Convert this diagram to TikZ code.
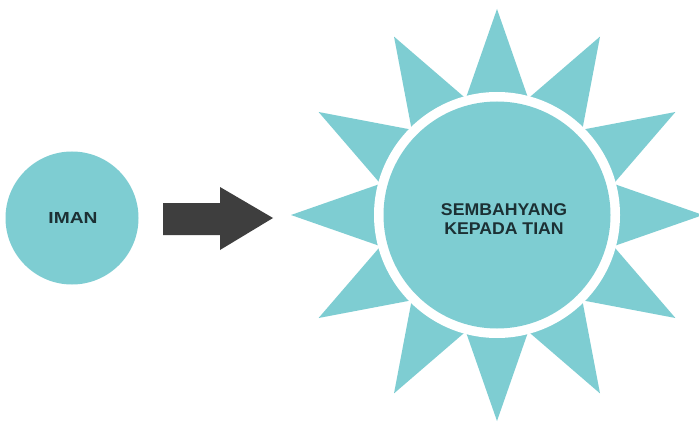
\documentclass[tikz,border=0pt]{standalone}
\usepackage{fontspec}
\setmainfont{Liberation Sans}
\definecolor{tealfill}{RGB}{126,205,210}
\definecolor{arrowgray}{RGB}{62,62,62}
\definecolor{labeltext}{RGB}{28,48,52}
\tikzset{
  bubble/.style={circle, fill=tealfill, inner sep=0pt},
  labelfont/.style={text=labeltext, font=\bfseries\fontsize{17}{19}\selectfont, align=center, inner sep=0pt},
  ray/.style={fill=tealfill},
}
\begin{document}
\begin{tikzpicture}[x=1pt,y=-1pt]
\useasboundingbox (0,0) rectangle (699,425);
\fill[white] (0,0) rectangle (699,425);
% left circle
\node[bubble, minimum size=133pt] (iman) at (72,218) {};
\node[labelfont, font=\bfseries\fontsize{16}{18}\selectfont, xscale=1.2] (imantext) at (73,218) {IMAN};
% block arrow
\coordinate (arrowstart) at (163,218);
\fill[arrowgray] (163,203) -- (220,203) -- (220,187) -- (273,218) -- (220,250) -- (220,235) -- (163,235) -- cycle;
% sun rays
\coordinate (suncenter) at (497,215);
\foreach \a in {0,30,...,330}{
  \fill[ray, rotate around={\a:(suncenter)}] (597,178) -- (703,215) -- (597,252) -- cycle;
}
\node[circle, fill=white, inner sep=0pt, minimum size=246pt] (ring) at (suncenter) {};
\node[bubble, minimum size=227pt] (sun) at (suncenter) {};
\node[labelfont, xscale=1.04] (suntext) at (504,219) {SEMBAHYANG\\KEPADA TIAN};
\end{tikzpicture}
\end{document}
